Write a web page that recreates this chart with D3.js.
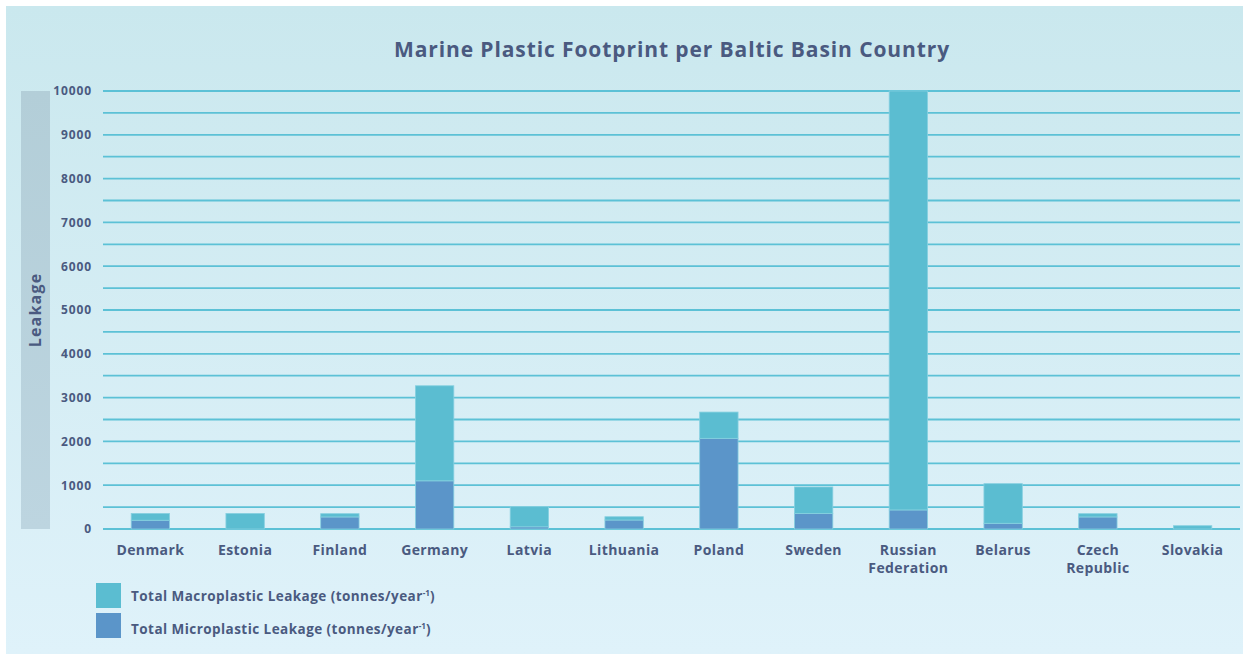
<!DOCTYPE html>
<html>
<head>
<meta charset="utf-8">
<script src="https://cdn.jsdelivr.net/npm/d3@7"></script>
<style>
  html, body { margin: 0; padding: 0; background: #fff; }
  svg { display: block; font-family: 'Open Sans', sans-serif; }
</style>
</head>
<body>
<div id="chart"></div>
<script>
const countries = ['Denmark', 'Estonia', 'Finland', 'Germany', 'Latvia', 'Lithuania', 'Poland',
  'Sweden', 'Russian Federation', 'Belarus', 'Czech Republic', 'Slovakia'];
const microplastic = [200, 0, 275, 1100, 50, 205, 2070, 355, 435, 130, 275, 0];
const macroplastic = [155, 355, 75, 2170, 460, 75, 600, 605, 9565, 905, 75, 75];
const yTicks = [0, 1000, 2000, 3000, 4000, 5000, 6000, 7000, 8000, 9000, 10000];
const gridTicks = d3.range(0, 10001, 500);
const seriesNames = ['Total Macroplastic Leakage (tonnes/year', 'Total Microplastic Leakage (tonnes/year'];

const W = 1249, H = 660;
const colMacro = '#5bbdd1', colMicro = '#5b95c9';
const ink = '#4a5a80';

const svg = d3.select('#chart').append('svg').attr('width', W).attr('height', H);

const defs = svg.append('defs');
const bg = defs.append('linearGradient').attr('id', 'bg').attr('x1', 0).attr('y1', 0).attr('x2', 0).attr('y2', 1);
bg.append('stop').attr('offset', 0).attr('stop-color', '#cae8ee');
bg.append('stop').attr('offset', 1).attr('stop-color', '#dff2fa');
const lab = defs.append('linearGradient').attr('id', 'lab').attr('x1', 0).attr('y1', 0).attr('x2', 0).attr('y2', 1);
lab.append('stop').attr('offset', 0).attr('stop-color', '#b3ced8');
lab.append('stop').attr('offset', 1).attr('stop-color', '#bdd5e0');

svg.append('rect').attr('x', 6).attr('y', 6).attr('width', W - 12).attr('height', H - 12).attr('fill', 'url(#bg)');

svg.append('text').attr('x', 672).attr('y', 57).attr('text-anchor', 'middle')
  .attr('fill', ink).attr('font-size', 21).attr('font-weight', 700).attr('letter-spacing', 0.9)
  .text('Marine Plastic Footprint per Baltic Basin Country');

const pad = 0.595;
const x = d3.scaleBand().domain(countries).range([103, 1240]).paddingInner(pad).paddingOuter(pad / 2);
const y = d3.scaleLinear().domain([0, 10000]).range([529, 91]);

// y label box
svg.append('rect').attr('x', 21).attr('y', y(10000)).attr('width', 29).attr('height', y(0) - y(10000))
  .attr('fill', 'url(#lab)');
svg.append('text').attr('transform', `translate(41,${(y(0) + y(10000)) / 2}) rotate(-90)`)
  .attr('text-anchor', 'middle').attr('fill', ink).attr('font-size', 16).attr('font-weight', 700)
  .attr('letter-spacing', 1.2)
  .text('Leakage');

// grid
svg.append('g').selectAll('line').data(gridTicks).join('line')
  .attr('x1', 103).attr('x2', 1240)
  .attr('y1', d => y(d)).attr('y2', d => y(d))
  .attr('stroke', '#5cc1d6').attr('stroke-width', 1.8);

// y axis labels
const yAxis = svg.append('g').attr('transform', 'translate(92,0)')
  .call(d3.axisLeft(y).tickValues(yTicks).tickSize(0).tickPadding(0).tickFormat(d3.format('d')));
yAxis.select('.domain').remove();
yAxis.selectAll('text').attr('fill', ink).attr('font-size', 12).attr('font-weight', 700)
  .attr('letter-spacing', 0.9).attr('font-family', "'Open Sans', sans-serif");

// stacked bars
const rows = countries.map((c, i) => ({ country: c, micro: microplastic[i], macro: macroplastic[i] }));
const stack = d3.stack().keys(['micro', 'macro'])(rows);
const colors = { micro: colMicro, macro: colMacro };

svg.append('g').selectAll('g').data(stack).join('g')
  .attr('fill', s => colors[s.key])
  .selectAll('rect').data(s => s.filter(d => d[1] > d[0])).join('rect')
  .attr('x', d => x(d.data.country))
  .attr('width', x.bandwidth())
  .attr('y', d => y(d[1]))
  .attr('height', d => y(d[0]) - y(d[1]))
  .attr('stroke', '#86d0e0').attr('stroke-width', 0.8);

// x labels
const xl = svg.append('g').selectAll('text').data(countries).join('text')
  .attr('x', d => x(d) + x.bandwidth() / 2).attr('y', 555)
  .attr('text-anchor', 'middle').attr('fill', ink).attr('font-size', 14).attr('font-weight', 700)
  .attr('letter-spacing', 0.4);
xl.each(function (d) {
  const words = d.split(' ');
  d3.select(this).selectAll('tspan').data(words).join('tspan')
    .attr('x', x(d) + x.bandwidth() / 2).attr('dy', (w, i) => i ? 18 : 0).text(w => w);
});

// legend
const leg = svg.append('g').selectAll('g').data(seriesNames).join('g')
  .attr('transform', (d, i) => `translate(96,${583 + i * 30})`);
leg.append('rect').attr('width', 25).attr('height', 25).attr('fill', (d, i) => i ? colMicro : colMacro);
const lt = leg.append('text').attr('x', 35).attr('y', (d, i) => 18 + i * 3).attr('fill', ink)
  .attr('font-size', 13.5).attr('font-weight', 700).attr('letter-spacing', 0.45);
lt.append('tspan').text(d => d);
lt.append('tspan').attr('font-size', 8).attr('dy', -5).attr('letter-spacing', 0).text('-1');
lt.append('tspan').attr('dy', 5).text(')');
</script>
</body>
</html>
